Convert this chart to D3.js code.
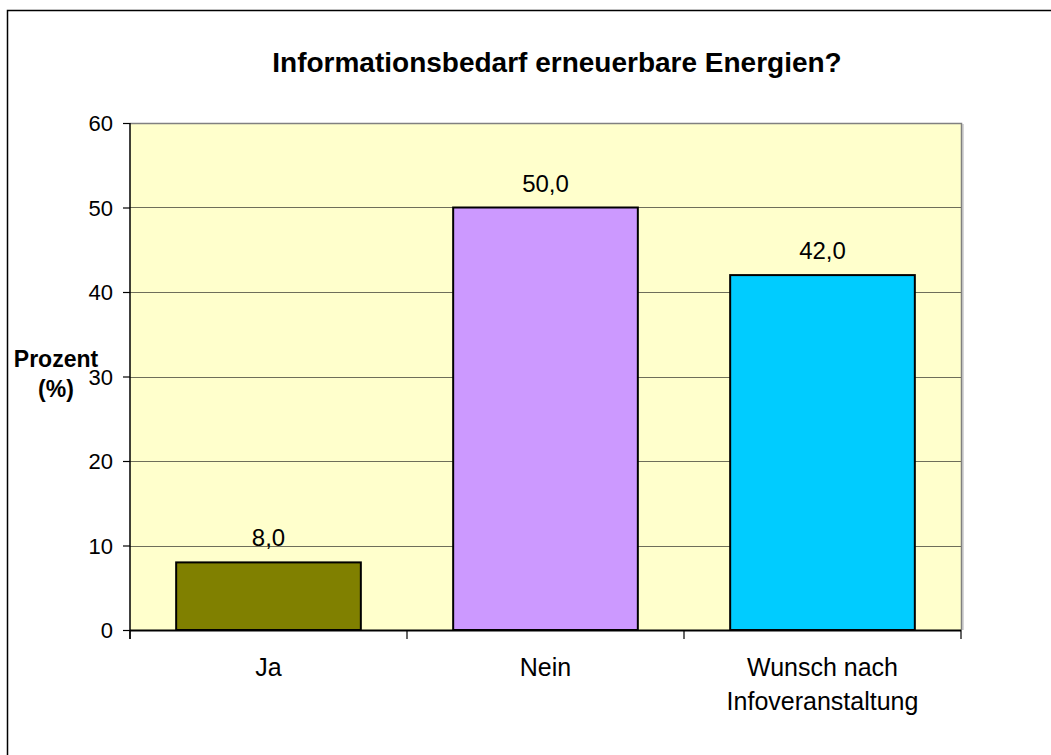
<!DOCTYPE html>
<html>
<head>
<meta charset="utf-8">
<script src="https://cdn.jsdelivr.net/npm/d3@7"></script>
<style>
  body { margin: 0; background: #fff; }
  svg text { font-family: Arial, "Liberation Sans", sans-serif; fill: #000; }
</style>
</head>
<body>
<div id="chart"></div>
<script>
"use strict";

var categories = ["Ja", "Nein", "Wunsch nach\nInfoveranstaltung"];
var values = [8.0, 50.0, 42.0];
var barColors = ["#808000", "#CC99FF", "#00CCFF"];
var yTicks = [0, 10, 20, 30, 40, 50, 60];
var title = "Informationsbedarf erneuerbare Energien?";
var yLabel = ["Prozent", "(%)"];

function render() {
  var width = 1051, height = 755;
  var plot = { left: 130, right: 961, top: 123, bottom: 630 };

  var svg = d3.select("#chart").append("svg")
    .attr("width", width)
    .attr("height", height);

  // outer chart frame (runs off the right and bottom edge)
  svg.append("rect")
    .attr("x", 7.5).attr("y", 10.5)
    .attr("width", 1100).attr("height", 800)
    .style("fill", "#fff")
    .style("stroke", "#000")
    .style("stroke-width", 1.5);

  var x = d3.scaleBand()
    .domain(categories)
    .range([plot.left, plot.right])
    .paddingInner(1 / 3)
    .paddingOuter(1 / 6);

  var y = d3.scaleLinear()
    .domain([0, 60])
    .range([plot.bottom, plot.top]);

  // plot background
  svg.append("rect")
    .attr("x", plot.left).attr("y", plot.top)
    .attr("width", plot.right - plot.left)
    .attr("height", plot.bottom - plot.top)
    .style("fill", "#FFFFCC");

  // shadow / border on top and right
  svg.append("path")
    .attr("d", "M" + (plot.right + 2) + "," + (plot.top + 1) + "V" + plot.bottom)
    .style("stroke", "#c8c8c8").style("stroke-width", 1.5).style("fill", "none");
  svg.append("path")
    .attr("d", "M" + plot.left + "," + (plot.top + 0.5) + "H" + (plot.right + 0.5) + "V" + plot.bottom)
    .style("stroke", "#808080").style("stroke-width", 1.5).style("fill", "none");

  // gridlines
  svg.append("g")
    .selectAll("line")
    .data(yTicks.filter(function(d) { return d > 0 && d < 60; }))
    .enter().append("line")
    .attr("x1", plot.left).attr("x2", plot.right)
    .attr("y1", function(d) { return Math.round(y(d)) + 0.5; })
    .attr("y2", function(d) { return Math.round(y(d)) + 0.5; })
    .style("stroke", "#6e6e5a")
    .style("stroke-width", 1);

  // bars
  svg.append("g")
    .selectAll("rect")
    .data(values)
    .enter().append("rect")
    .attr("x", function(d, i) { return x(categories[i]); })
    .attr("y", function(d) { return y(d); })
    .attr("width", x.bandwidth())
    .attr("height", function(d) { return y(0) - y(d); })
    .style("fill", function(d, i) { return barColors[i]; })
    .style("stroke", "#000")
    .style("stroke-width", 2);

  // value labels
  svg.append("g")
    .selectAll("text")
    .data(values)
    .enter().append("text")
    .attr("x", function(d, i) { return x(categories[i]) + x.bandwidth() / 2; })
    .attr("y", function(d) { return y(d) - 16; })
    .attr("text-anchor", "middle")
    .style("font-size", "24px")
    .text(function(d) { return d.toFixed(1).replace(".", ","); });

  // y axis
  var yAxis = svg.append("g")
    .attr("transform", "translate(" + plot.left + ",0)")
    .call(d3.axisLeft(y).tickValues(yTicks).tickSize(7).tickPadding(10));
  yAxis.select(".domain").attr("d", "M0," + plot.top + "V" + (plot.bottom + 9))
    .style("stroke", "#000").style("stroke-width", 1.5);
  yAxis.selectAll(".tick line").style("stroke", "#000").style("stroke-width", 1.2);
  yAxis.selectAll(".tick text")
    .style("font-size", "22px")
    .style("font-family", "Arial, 'Liberation Sans', sans-serif")
    .attr("dy", "0.36em");

  // x axis line + category separators
  var step = x.step();
  var bounds = categories.map(function(c) { return x(c) - step * x.paddingInner() / 2; });
  bounds.push(plot.right);
  svg.append("line")
    .attr("x1", plot.left).attr("x2", plot.right)
    .attr("y1", plot.bottom + 0.5).attr("y2", plot.bottom + 0.5)
    .style("stroke", "#000").style("stroke-width", 2);
  svg.append("g")
    .selectAll("line")
    .data(bounds)
    .enter().append("line")
    .attr("x1", function(d) { return d; }).attr("x2", function(d) { return d; })
    .attr("y1", plot.bottom).attr("y2", plot.bottom + 9)
    .style("stroke", "#000").style("stroke-width", 1.2);

  // category labels
  var catLabels = svg.append("g")
    .selectAll("text")
    .data(categories)
    .enter().append("text")
    .attr("x", function(d) { return x(d) + x.bandwidth() / 2; })
    .attr("y", 676)
    .attr("text-anchor", "middle")
    .style("font-size", "25px");
  catLabels.selectAll("tspan")
    .data(function(d) { return d.split("\n"); })
    .enter().append("tspan")
    .attr("x", function() { return d3.select(this.parentNode).attr("x"); })
    .attr("dy", function(d, i) { return i ? 34 : 0; })
    .text(function(d) { return d; });

  // title
  svg.append("text")
    .attr("x", 557)
    .attr("y", 72)
    .attr("text-anchor", "middle")
    .style("font-size", "28px")
    .style("font-weight", "bold")
    .text(title);

  // y axis title
  svg.append("g")
    .selectAll("text")
    .data(yLabel)
    .enter().append("text")
    .attr("x", 56)
    .attr("y", function(d, i) { return 367 + i * 30; })
    .attr("text-anchor", "middle")
    .style("font-size", "23px")
    .style("font-weight", "bold")
    .text(function(d) { return d; });
}

render();
</script>
</body>
</html>
